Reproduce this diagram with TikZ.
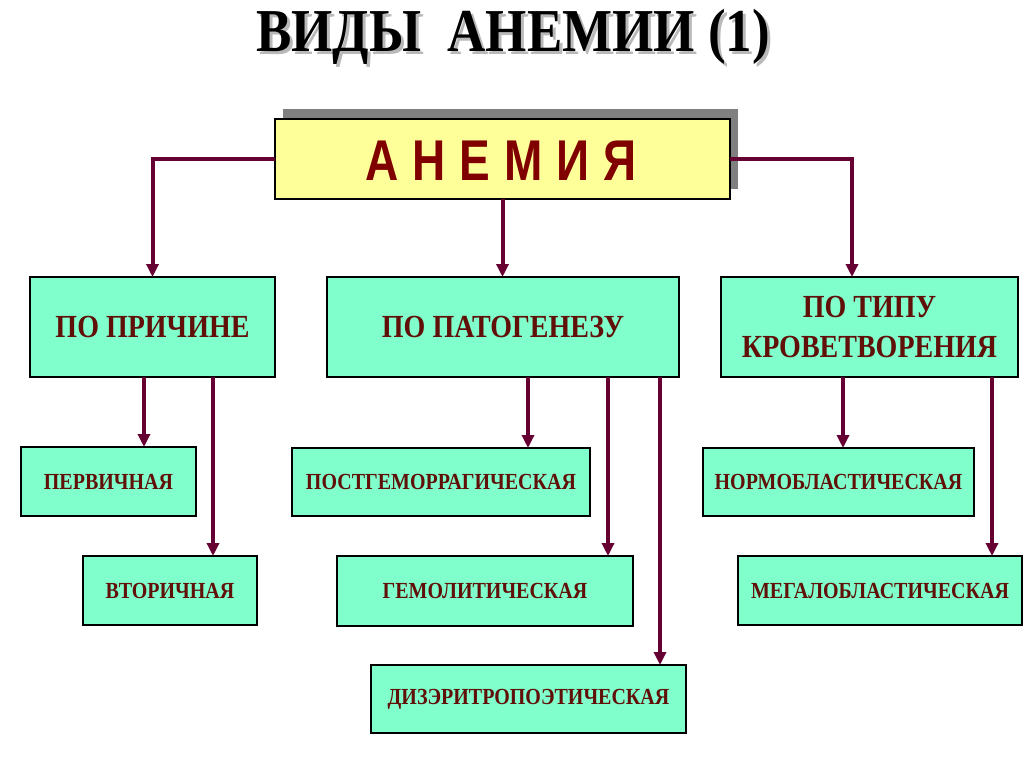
\documentclass[tikz,border=0pt]{standalone}
\usepackage{fontspec}
\usepackage{graphicx}
\setmainfont{Liberation Serif}
\newfontfamily\anemfont{Liberation Sans}
\usetikzlibrary{arrows.meta,backgrounds}
\definecolor{boxfill}{RGB}{128,255,204}
\definecolor{topfill}{RGB}{255,255,153}
\definecolor{shadowgray}{RGB}{128,128,128}
\definecolor{titleshadow}{RGB}{185,185,185}
\definecolor{linecol}{RGB}{102,0,51}
\definecolor{textcol}{RGB}{96,16,8}
\definecolor{anemcol}{RGB}{128,0,0}
\newcommand{\vst}[1]{\scalebox{1}[1.15]{#1}}
\newcommand{\lsp}{\kern14pt}
\newcommand{\titlestr}{ВИДЫ\ \ АНЕМИИ (1)}
\begin{document}
\begin{tikzpicture}[x=1pt,y=-1pt,
  box/.style={draw=black, line width=1.5pt, fill=boxfill, inner sep=0pt, outer sep=0pt, text=textcol, align=center},
  lvltwo/.style={box, minimum height=100pt, font=\bfseries\fontsize{28}{38}\selectfont},
  lvlthree/.style={box, font=\bfseries\fontsize{20}{24}\selectfont},
  conn/.style={draw=linecol, line width=4pt, -{Triangle[length=13pt,width=12pt]}},
  titletext/.style={font=\bfseries\fontsize{53}{60}\selectfont, inner sep=0pt, anchor=base},
]
\useasboundingbox (0,0) rectangle (1024,767);

% title with soft shadow
\node[titletext, text=black] (title) at (513,52) {\rlap{\kern3pt\raisebox{-3pt}{\color{titleshadow}\vst{\titlestr}}}\vst{\titlestr}};

% top box
\node[draw=black, line width=1.5pt, fill=topfill, minimum width=455pt, minimum height=80pt, inner sep=0pt, outer sep=0pt] (anem) at (502.5,159) {};
\begin{scope}[on background layer]
  \fill[shadowgray] ([xshift=8pt,yshift=10pt]anem.south west) rectangle ([xshift=8pt,yshift=10pt]anem.north east);
\end{scope}
\node[anchor=base, inner sep=0pt, text=anemcol, font=\anemfont\bfseries\fontsize{46}{50}\selectfont] (anemtext) at (501,181) {\scalebox{1}[1.25]{А\lsp Н\lsp Е\lsp М\lsp И\lsp Я}};

% level 2
\node[lvltwo, minimum width=245pt] (cause) at (152.5,327) {\vst{ПО ПРИЧИНЕ}};
\node[lvltwo, minimum width=352pt] (pat) at (503,327) {\vst{ПО ПАТОГЕНЕЗУ}};
\node[lvltwo, minimum width=297pt] (typ) at (869.5,327) {\vst{ПО ТИПУ}\\[2pt]\vst{КРОВЕТВОРЕНИЯ}};

% level 3
\node[lvlthree, minimum width=175pt, minimum height=69pt] (perv) at (108.5,481.5) {\vst{ПЕРВИЧНАЯ}};
\node[lvlthree, minimum width=174pt, minimum height=69pt] (vtor) at (170,590.5) {\vst{ВТОРИЧНАЯ}};
\node[lvlthree, minimum width=298pt, minimum height=68pt] (post) at (441,482) {\vst{ПОСТГЕМОРРАГИЧЕСКАЯ}};
\node[lvlthree, minimum width=296pt, minimum height=70pt] (gemo) at (485,591) {\vst{ГЕМОЛИТИЧЕСКАЯ}};
\node[lvlthree, minimum width=315pt, minimum height=68pt] (diz) at (528.5,699) {\vst{ДИЗЭРИТРОПОЭТИЧЕСКАЯ}};
\node[lvlthree, minimum width=271pt, minimum height=68pt] (norm) at (838.5,482) {\vst{НОРМОБЛАСТИЧЕСКАЯ}};
\node[lvlthree, minimum width=284pt, minimum height=69pt] (mega) at (880,590.5) {\vst{МЕГАЛОБЛАСТИЧЕСКАЯ}};

% connectors from top
\draw[conn] (anem.west) -| (cause.north);
\draw[conn] (anem.south) -- (anem.south |- pat.north);
\draw[conn] (anem.east) -| ([xshift=-17.5pt]typ.north);

% connectors level 2 -> 3
\coordinate (a1) at ([xshift=-8.5pt]cause.south);
\coordinate (a2) at ([xshift=60.5pt]cause.south);
\coordinate (b1) at ([xshift=25pt]pat.south);
\coordinate (b2) at ([xshift=105pt]pat.south);
\coordinate (b3) at ([xshift=157pt]pat.south);
\coordinate (c1) at ([xshift=-26.5pt]typ.south);
\coordinate (c2) at ([xshift=122.5pt]typ.south);
\draw[conn] (a1) -- (a1 |- perv.north);
\draw[conn] (a2) -- (a2 |- vtor.north);
\draw[conn] (b1) -- (b1 |- post.north);
\draw[conn] (b2) -- (b2 |- gemo.north);
\draw[conn] (b3) -- (b3 |- diz.north);
\draw[conn] (c1) -- (c1 |- norm.north);
\draw[conn] (c2) -- (c2 |- mega.north);
\end{tikzpicture}
\end{document}
